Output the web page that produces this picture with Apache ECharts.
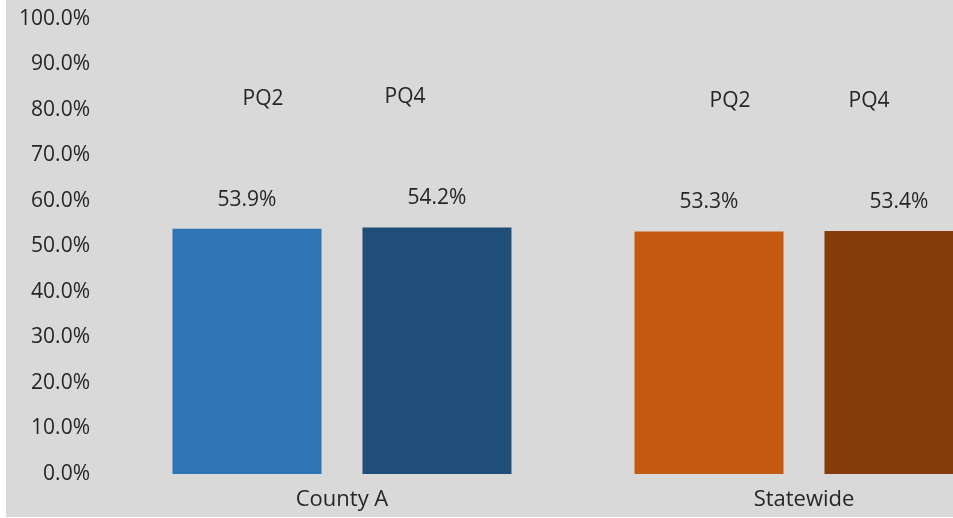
<!DOCTYPE html>
<html>
<head>
<meta charset="utf-8">
<script src="https://cdn.jsdelivr.net/npm/echarts@6/dist/echarts.min.js"></script>
<style>
  html, body { margin: 0; padding: 0; background: #fff; }
  #chart { position: absolute; left: 6px; top: 0; width: 947px; height: 517px; }
</style>
</head>
<body>
<div id="chart"></div>
<script>
// data
const categories = ["County A", "Statewide"];
const pq2Values = [53.9, 53.3];
const pq4Values = [54.2, 53.4];
const pq2Colors = ["#2E75B6", "#C55A11"];
const pq4Colors = ["#1F4E79", "#843C0C"];
// horizontal shift of the "PQ" text box relative to its bar (px)
const pq2Shift = [16, 21];
const pq4Shift = [-32, -30];

const FONT = "'Open Sans', 'Noto Sans', sans-serif";
const TEXT = "#262626";

function buildData(values, colors, shifts) {
  return values.map((v, i) => {
    const s = shifts[i];
    return {
      value: v,
      itemStyle: { color: colors[i] },
      label: {
        rich: {
          pq: {
            fontSize: 21, fontFamily: FONT, color: TEXT, lineHeight: 178,
            padding: s > 0 ? [0, 0, 0, 2 * s] : [0, -2 * s, 0, 0]
          },
          val: { fontSize: 21, fontFamily: FONT, color: TEXT, lineHeight: 24 }
        }
      }
    };
  });
}

const myChart = echarts.init(document.getElementById("chart"));
myChart.setOption({
  backgroundColor: "#D9D9D9",
  animation: false,
  // the plot runs past the right edge of the picture, so no clamping
  grid: { left: 105, top: 19, width: 924, height: 455, outerBoundsMode: "none" },
  xAxis: {
    type: "category",
    data: categories,
    axisLine: { show: false },
    axisTick: { show: false },
    axisLabel: { fontSize: 22, fontFamily: FONT, color: TEXT, margin: 15 }
  },
  yAxis: {
    type: "value",
    min: 0,
    max: 100,
    interval: 10,
    splitLine: { show: false },
    axisLine: { show: false },
    axisTick: { show: false },
    axisLabel: {
      fontSize: 21, fontFamily: FONT, color: TEXT, margin: 21,
      formatter: (v) => v.toFixed(1) + "%"
    }
  },
  series: [
    {
      name: "PQ2",
      type: "bar",
      barWidth: 149,
      barGap: "27.5%",
      data: buildData(pq2Values, pq2Colors, pq2Shift),
      label: {
        show: true, position: "top", distance: 17,
        formatter: (p) => "{pq|" + p.seriesName + "}\n{val|" + p.value.toFixed(1) + "%}"
      }
    },
    {
      name: "PQ4",
      type: "bar",
      barWidth: 149,
      barGap: "27.5%",
      data: buildData(pq4Values, pq4Colors, pq4Shift),
      label: {
        show: true, position: "top", distance: 17,
        formatter: (p) => "{pq|" + p.seriesName + "}\n{val|" + p.value.toFixed(1) + "%}"
      }
    }
  ]
});
</script>
</body>
</html>
